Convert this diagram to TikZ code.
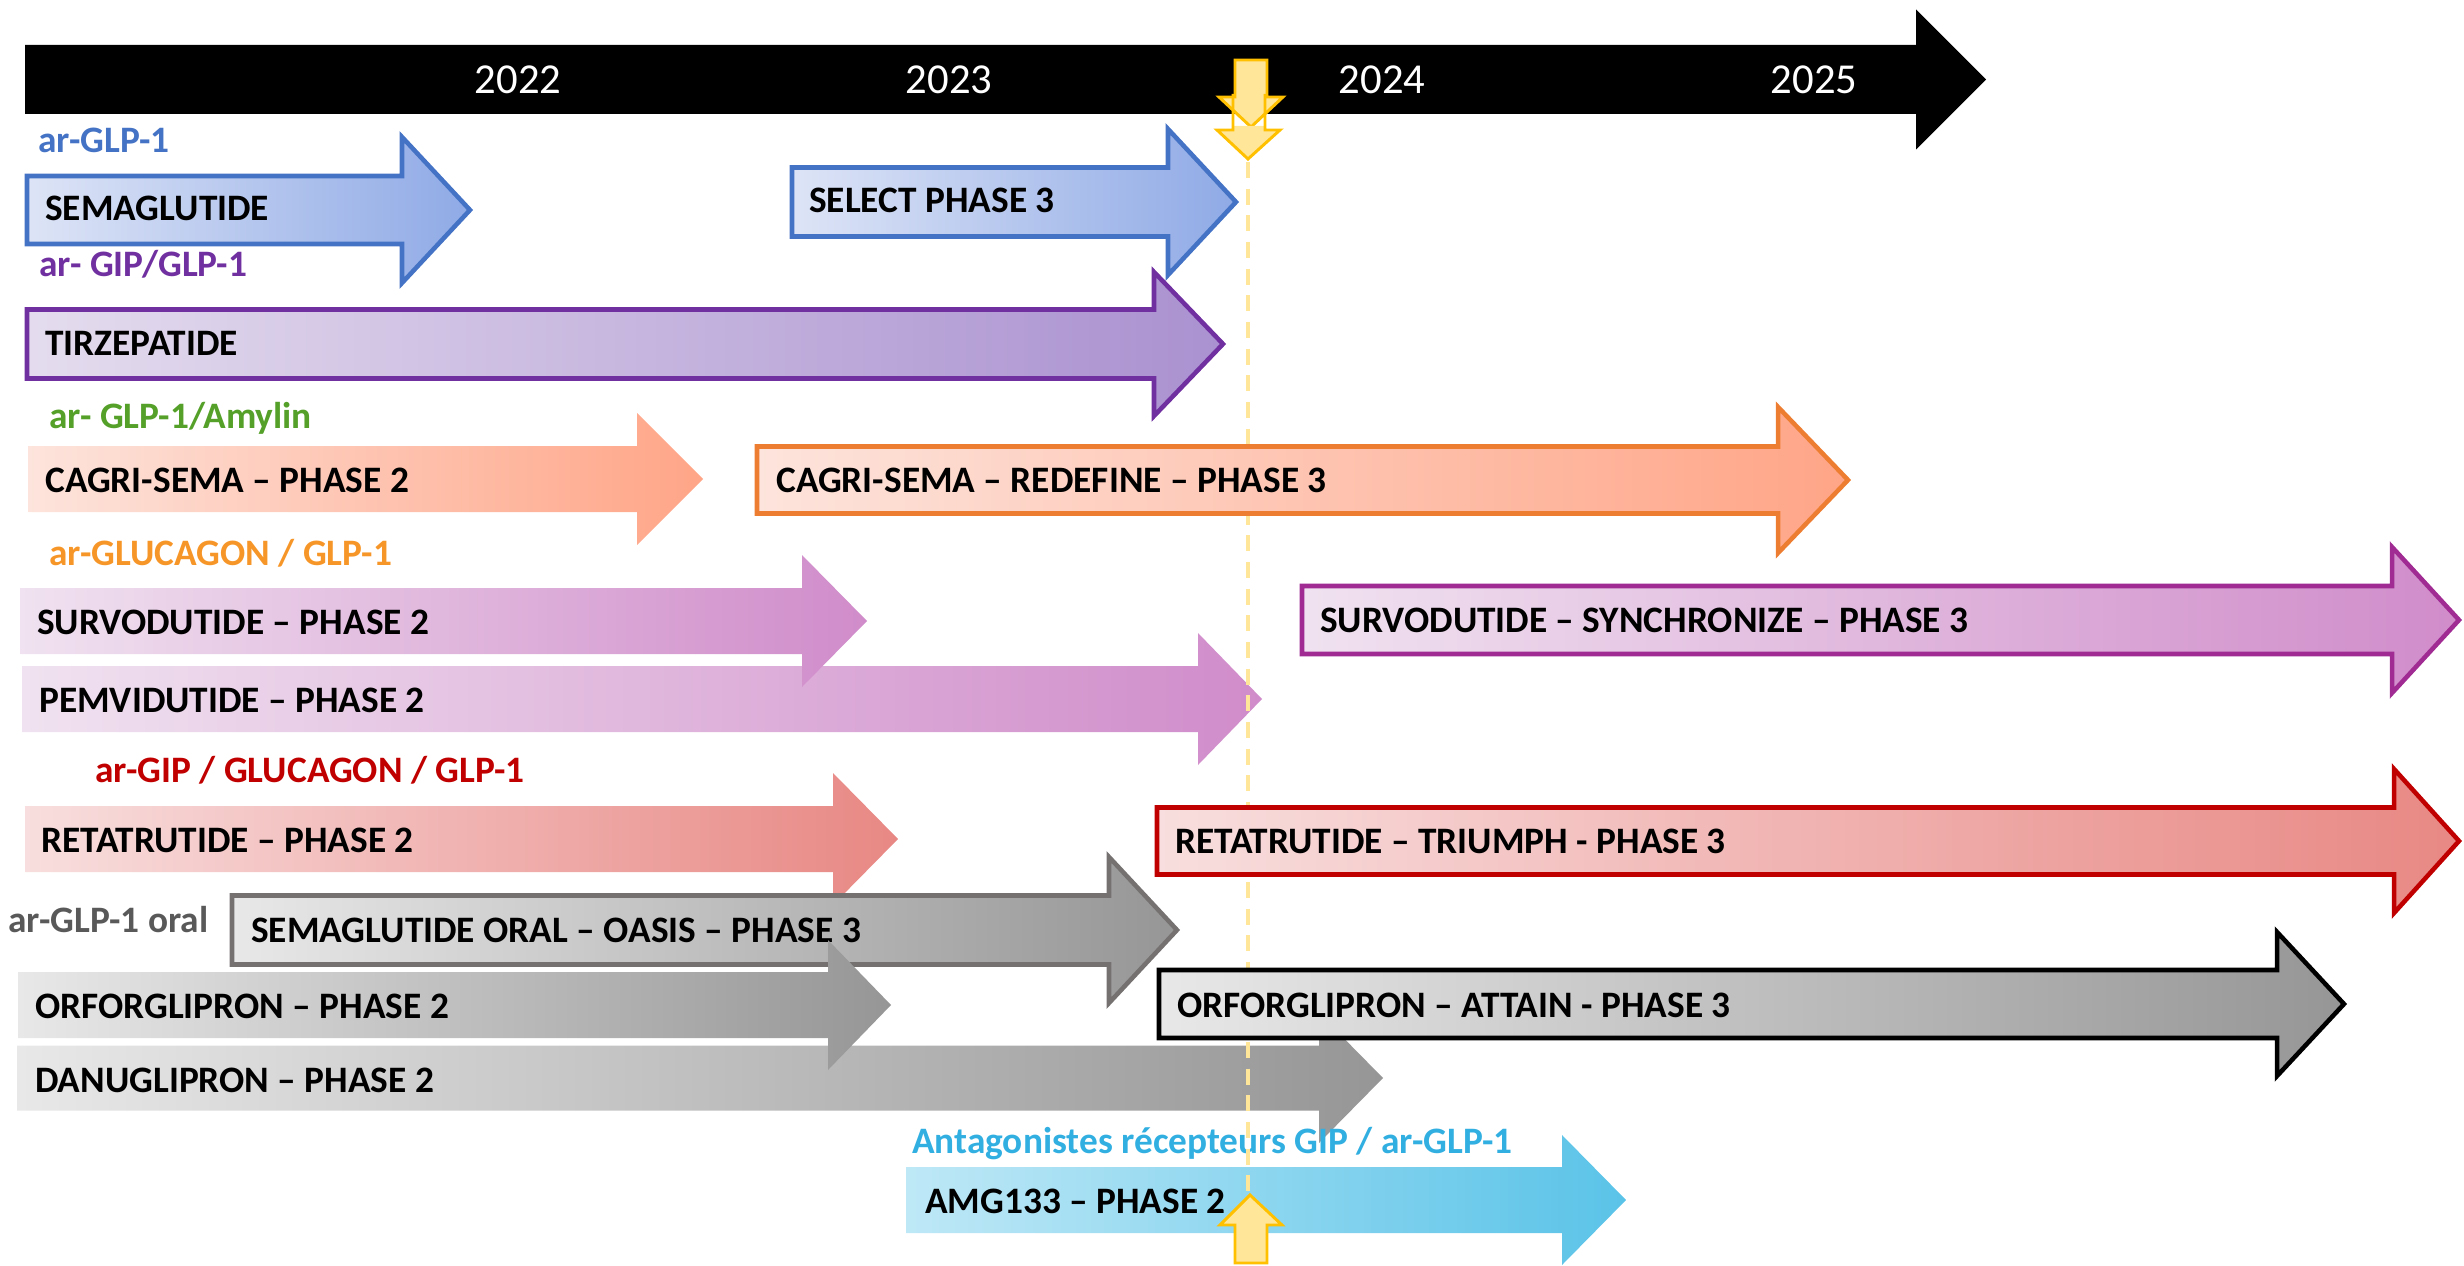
\documentclass[tikz,border=0pt]{standalone}
\usepackage{fontspec}
\setmainfont{Carlito}
\usepackage{tikz}

\definecolor{blueL}{RGB}{221,228,246}
\definecolor{blueR}{RGB}{143,170,230}
\definecolor{blueLine}{RGB}{68,114,196}
\definecolor{purpL}{RGB}{228,220,238}
\definecolor{purpR}{RGB}{170,145,208}
\definecolor{purpLine}{RGB}{112,48,160}
\definecolor{orngL}{RGB}{253,228,220}
\definecolor{orngR}{RGB}{255,165,135}
\definecolor{orngLine}{RGB}{237,125,49}
\definecolor{pinkL}{RGB}{240,226,240}
\definecolor{pinkR}{RGB}{208,140,202}
\definecolor{pinkLine}{RGB}{160,43,147}
\definecolor{redL}{RGB}{248,222,222}
\definecolor{redR}{RGB}{232,136,132}
\definecolor{redLine}{RGB}{192,0,0}
\definecolor{grayL}{RGB}{232,232,232}
\definecolor{grayR}{RGB}{150,150,150}
\definecolor{grayLine}{RGB}{118,113,113}
\definecolor{cyanL}{RGB}{190,232,246}
\definecolor{cyanR}{RGB}{90,195,232}
\definecolor{yellowFill}{RGB}{255,230,153}
\definecolor{yellowLine}{RGB}{255,192,0}
\definecolor{lblGreen}{RGB}{84,160,40}
\definecolor{lblOrange}{RGB}{247,150,40}
\definecolor{lblGray}{RGB}{89,89,89}
\definecolor{lblCyan}{RGB}{50,175,225}

% right block arrow: style, left x, head base x, tip x, centre y, body half height, head half height
\newcommand{\blockarrow}[7]{%
  \path[#1] (#2,{#5-#6}) -- (#3,{#5-#6}) -- (#3,{#5-#7}) -- (#4,#5) -- (#3,{#5+#7}) -- (#3,{#5+#6}) -- (#2,{#5+#6}) -- cycle;}

\tikzset{
  timeline/.style={fill=black},
  glpArrow/.style={left color=blueL, right color=blueR},
  gipArrow/.style={left color=purpL, right color=purpR},
  amylinArrow/.style={left color=orngL, right color=orngR},
  glucArrow/.style={left color=pinkL, right color=pinkR},
  tripleArrow/.style={left color=redL, right color=redR},
  oralArrow/.style={left color=grayL, right color=grayR},
  antaArrow/.style={left color=cyanL, right color=cyanR},
  phaseThree/.style={draw=#1, line width=3.4pt},
  marker/.style={fill=yellowFill, draw=yellowLine, line width=2.2pt},
  markerline/.style={draw=yellowLine, line width=2.2pt},
  todayline/.style={draw=yellowFill, line width=3pt, dash pattern={on 12pt off 8pt}},
  yeartext/.style={anchor=base, inner sep=0.75pt, text=white, font=\fontsize{32}{38}\selectfont},
  bartext/.style={anchor=base west, inner sep=0.75pt, font=\fontsize{28}{32}\selectfont\bfseries},
  grouplabel/.style={anchor=base west, inner sep=0.75pt, text=#1, font=\fontsize{28}{32}\selectfont\bfseries}
}

\begin{document}
\begin{tikzpicture}[x=0.75pt,y=0.75pt,yscale=-1,xscale=1]
    \useasboundingbox (0,0) rectangle (2464,1266);

    %Shape: Right Arrow [time axis]
    \blockarrow{timeline}{25}{1916}{1986}{79.5}{34.5}{70}
    %Shape: Down Arrow [first marker]
    \path[marker] (1235,60) -- (1267,60) -- (1267,97) -- (1283,97) -- (1251,127) -- (1219,97) -- (1235,97) -- cycle;
    %Shape: Down Arrow [second marker, its shaft seen through the first]
    \path[fill=yellowFill] (1233,126) -- (1265,126) -- (1265,130) -- (1280,130) -- (1248,159) -- (1217,130) -- (1233,130) -- cycle;
    \draw[markerline] (1265,94) -- (1265,130) -- (1280,130) -- (1248,159) -- (1217,130) -- (1233,130) -- (1233,94);

    % Text Node
    \node (y2022) [yeartext] at (518,94) {2022};
    \node (y2023) [yeartext] at (949,94) {2023};
    \node (y2024) [yeartext] at (1382,94) {2024};
    \node (y2025) [yeartext] at (1814,94) {2025};

    %Shape: Right Arrow [ar-GLP-1]
    \blockarrow{glpArrow, phaseThree=blueLine}{27}{402}{470}{210}{34}{73}
    \node (txtSema) [bartext] at (44,221) {SEMAGLUTIDE};
    \blockarrow{glpArrow, phaseThree=blueLine}{792}{1168}{1236}{202}{34.5}{73}
    \node (txtSelect) [bartext] at (808,213) {SELECT PHASE 3};

    %Shape: Right Arrow [ar-GIP/GLP-1]
    \blockarrow{gipArrow, phaseThree=purpLine}{27}{1154}{1223}{344}{34.5}{72}
    \node (txtTirz) [bartext] at (44,356) {TIRZEPATIDE};

    %Shape: Right Arrow [GLP-1/Amylin]
    \blockarrow{amylinArrow}{28}{637}{703}{479}{33}{66}
    \node (txtCagriTwo) [bartext] at (44,492) {CAGRI-SEMA – PHASE 2};

    %Shape: Right Arrow [glucagon/GLP-1]
    \blockarrow{glucArrow}{22}{1198}{1262}{699}{33}{66}
    \node (txtPemvi) [bartext] at (38,712) {PEMVIDUTIDE – PHASE 2};
    \blockarrow{glucArrow}{20}{802}{867}{621}{33}{66}
    \node (txtSurvoTwo) [bartext] at (36,634) {SURVODUTIDE – PHASE 2};

    %Shape: Right Arrow [GIP/glucagon/GLP-1]
    \blockarrow{tripleArrow}{25}{833}{898}{839}{33}{66}
    \node (txtRetaTwo) [bartext] at (40,852) {RETATRUTIDE – PHASE 2};

    %Shape: Right Arrow [oral]
    \blockarrow{oralArrow, phaseThree=grayLine}{232}{1109}{1177}{930}{34.5}{73}
    \node (txtOasis) [bartext] at (250,942) {SEMAGLUTIDE ORAL – OASIS – PHASE 3};
    \blockarrow{oralArrow}{17}{1319}{1383}{1078}{32.5}{65}
    \node (txtDanu) [bartext] at (34,1092) {DANUGLIPRON – PHASE 2};
    \blockarrow{oralArrow}{18}{828}{891}{1005}{33}{65}
    \node (txtOrfoTwo) [bartext] at (34,1018) {ORFORGLIPRON – PHASE 2};

    %Shape: Right Arrow [antagonist]
    \blockarrow{antaArrow}{906}{1562}{1626}{1200}{33}{65}
    \node (txtAmg) [bartext] at (924,1213) {AMG133 – PHASE 2};
    \node (lblAnta) [grouplabel=lblCyan] at (911,1153) {Antagonistes récepteurs GIP / ar-GLP-1};

    %Straight Lines [today]
    \coordinate (todayTop) at (1248,162);
    \coordinate (todayBot) at (1248,1195);
    \draw[todayline] (todayTop) -- (todayBot);

    %Shape: Right Arrow [phase 3 trials]
    \blockarrow{amylinArrow, phaseThree=orngLine}{757}{1778}{1848}{480}{33.5}{73}
    \node (txtCagriThree) [bartext] at (775,492) {CAGRI-SEMA – REDEFINE – PHASE 3};
    \blockarrow{glucArrow, phaseThree=pinkLine}{1302}{2392}{2459}{620}{34}{73}
    \node (txtSurvoThree) [bartext] at (1319,632) {SURVODUTIDE – SYNCHRONIZE – PHASE 3};
    \blockarrow{tripleArrow, phaseThree=redLine}{1157}{2394}{2459}{841}{33.5}{72}
    \node (txtRetaThree) [bartext] at (1174,853) {RETATRUTIDE – TRIUMPH - PHASE 3};
    \blockarrow{oralArrow, phaseThree=black}{1159}{2277}{2344}{1004}{34}{72}
    \node (txtAttain) [bartext] at (1176,1017) {ORFORGLIPRON – ATTAIN - PHASE 3};

    %Shape: Up Arrow [marker]
    \path[marker] (1235,1263) -- (1267,1263) -- (1267,1225) -- (1282,1225) -- (1250,1195) -- (1220,1225) -- (1235,1225) -- cycle;

    % Text Node [classes]
    \node (lblGlp) [grouplabel=blueLine] at (37,153) {ar-GLP-1};
    \node (lblGip) [grouplabel=purpLine] at (38,277) {ar- GIP/GLP-1};
    \node (lblAmylin) [grouplabel=lblGreen] at (48,428) {ar- GLP-1/Amylin};
    \node (lblGluc) [grouplabel=lblOrange] at (48,565) {ar-GLUCAGON / GLP-1};
    \node (lblTriple) [grouplabel=redLine] at (94,782) {ar-GIP / GLUCAGON / GLP-1};
    \node (lblOral) [grouplabel=lblGray] at (7,932) {ar-GLP-1 oral};

\end{tikzpicture}
\end{document}
